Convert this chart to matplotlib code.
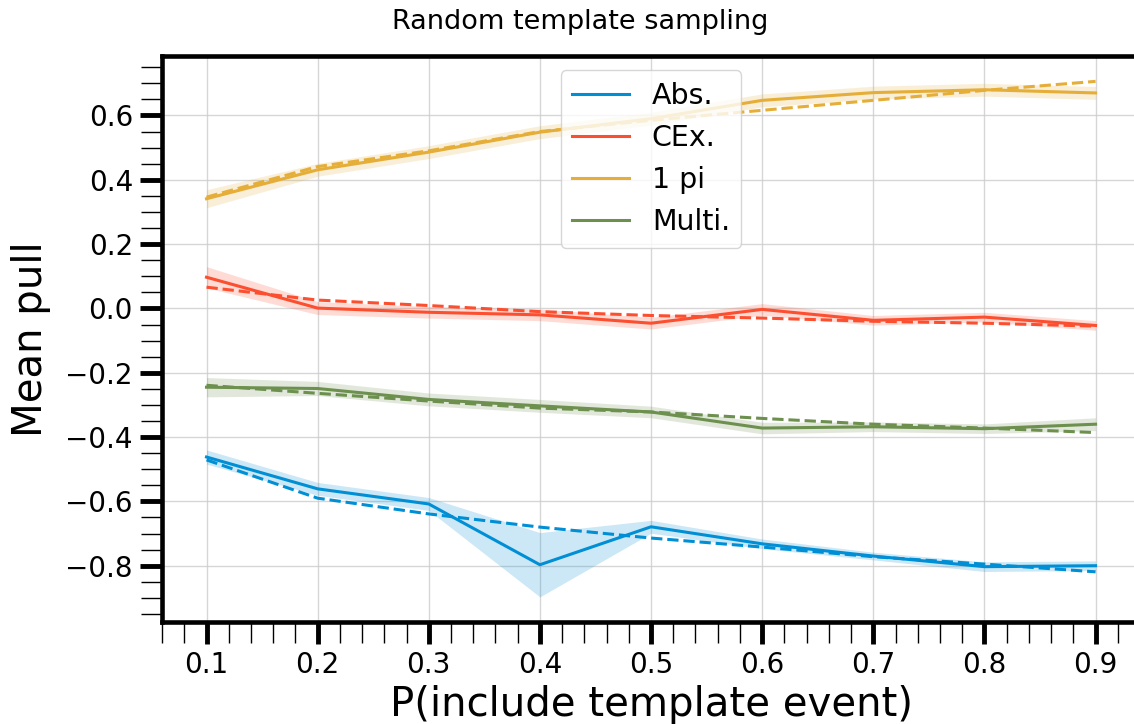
#!/usr/bin/env python3
# -*- coding: utf-8 -*-
"""
Mean pull against the probability of including a template event.
"""

import matplotlib
matplotlib.use('Agg')
import matplotlib.pyplot as plt
from matplotlib.ticker import MultipleLocator

# P(include template event)
p_include = [0.1, 0.2, 0.3, 0.4, 0.5, 0.6, 0.7, 0.8, 0.9]

labels = ['Abs.', 'CEx.', '1 pi', 'Multi.']
colors = ['#008fd5', '#fc4f30', '#e5ae38', '#6d904f']

# fitted mean pull (solid), its spread (band) and expectation (dashed)
abs_fit = [-0.462, -0.561, -0.608, -0.797, -0.679, -0.732, -0.770, -0.803, -0.800]
abs_err = [0.022, 0.020, 0.020, 0.100, 0.020, 0.015, 0.012, 0.015, 0.015]
abs_exp = [-0.471, -0.590, -0.639, -0.680, -0.714, -0.742, -0.772, -0.795, -0.819]

cex_fit = [0.097, 0.001, -0.012, -0.020, -0.046, -0.003, -0.037, -0.027, -0.053]
cex_err = [0.033, 0.020, 0.018, 0.018, 0.018, 0.018, 0.015, 0.015, 0.015]
cex_exp = [0.066, 0.026, 0.009, -0.010, -0.022, -0.030, -0.040, -0.046, -0.055]

pi_fit = [0.341, 0.431, 0.486, 0.548, 0.590, 0.647, 0.671, 0.680, 0.670]
pi_err = [0.028, 0.020, 0.020, 0.020, 0.020, 0.020, 0.020, 0.020, 0.020]
pi_exp = [0.346, 0.441, 0.490, 0.550, 0.585, 0.616, 0.647, 0.678, 0.706]

multi_fit = [-0.245, -0.249, -0.283, -0.303, -0.322, -0.372, -0.368, -0.374, -0.360]
multi_err = [0.030, 0.022, 0.020, 0.020, 0.018, 0.018, 0.015, 0.015, 0.020]
multi_exp = [-0.239, -0.264, -0.288, -0.310, -0.322, -0.342, -0.360, -0.372, -0.386]

fits = [abs_fit, cex_fit, pi_fit, multi_fit]
errs = [abs_err, cex_err, pi_err, multi_err]
exps = [abs_exp, cex_exp, pi_exp, multi_exp]

fig = plt.figure(figsize=(11.34, 7.24), dpi=100)
# the right spine falls just outside the picture, as in the original crop
ax = fig.add_axes([0.1429, 0.1409, 0.8624, 0.7818])

for fit, err, exp, label, color in zip(fits, errs, exps, labels, colors):
    lo = [f - e for f, e in zip(fit, err)]
    hi = [f + e for f, e in zip(fit, err)]
    ax.fill_between(p_include, lo, hi, color=color, alpha=0.2, linewidth=0)
    ax.plot(p_include, fit, color=color, linewidth=2.2, label=label)
    ax.plot(p_include, exp, color=color, linewidth=2.2, linestyle='--')

ax.set_xlim(0.06, 0.94)
ax.set_ylim(-0.975, 0.785)

ax.xaxis.set_major_locator(MultipleLocator(0.1))
ax.xaxis.set_minor_locator(MultipleLocator(0.02))
ax.yaxis.set_major_locator(MultipleLocator(0.2))
ax.yaxis.set_minor_locator(MultipleLocator(0.05))

ax.tick_params(which='major', length=16, width=3.5, labelsize=20, pad=5)
ax.tick_params(which='minor', length=15, width=1)
ax.set_xticks([0.1, 0.2, 0.3, 0.4, 0.5, 0.6, 0.7, 0.8, 0.9])
ax.set_xticklabels(['0.1', '0.2', '0.3', '0.4', '0.5', '0.6', '0.7', '0.8', '0.9'])

for spine in ax.spines.values():
    spine.set_linewidth(3.3)

ax.grid(True, which='major', color='#cccccc', linewidth=1, alpha=0.8)
ax.set_axisbelow(True)

ax.set_xlabel('P(include template event)', fontsize=29, labelpad=4)
ax.set_ylabel('Mean pull', fontsize=29, labelpad=10)

ax.legend(loc='upper center', fontsize=20.5, framealpha=0.8)

fig.text(0.512, 0.970, 'Random template sampling', fontsize=19.5,
         ha='center', va='center')

fig.savefig('out.png', dpi=100)
